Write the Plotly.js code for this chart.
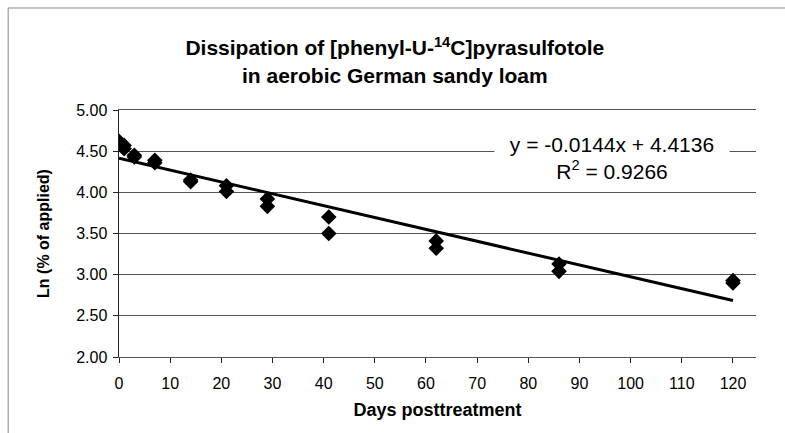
<!DOCTYPE html>
<html>
<head>
<meta charset="utf-8">
<script src="https://cdn.plot.ly/plotly-3.0.1.min.js"></script>
<style>html,body{margin:0;padding:0;background:#fff;}#chart{width:785px;height:433px;}</style>
</head>
<body>
<div id="chart"></div>
<script>
// Data
const days = [0, 0, 1, 1, 3, 3, 7, 7, 14, 14, 21, 21, 29, 29, 41, 41, 62, 62, 86, 86, 120, 120];
const lnApplied = [4.62, 4.60, 4.57, 4.53, 4.45, 4.43, 4.39, 4.36, 4.15, 4.13, 4.08, 4.01, 3.92, 3.83, 3.70, 3.50, 3.41, 3.32, 3.13, 3.04, 2.93, 2.90];
const trendSlope = -0.0144;
const trendIntercept = 4.4136;
const trendX = [0, 120];
const xTicks = [0, 10, 20, 30, 40, 50, 60, 70, 80, 90, 100, 110, 120];
const yTicks = [2.0, 2.5, 3.0, 3.5, 4.0, 4.5, 5.0];

const trendY = trendX.map(x => trendSlope * x + trendIntercept);

const font = 'Liberation Sans, Arial, sans-serif';

const traces = [
  {
    x: days, y: lnApplied, type: 'scatter', mode: 'markers',
    marker: {symbol: 'diamond', size: 12, color: '#000'},
    hoverinfo: 'x+y', showlegend: false
  },
  {
    x: trendX, y: trendY, type: 'scatter', mode: 'lines',
    line: {color: '#000', width: 3}, showlegend: false
  }
];

const layout = {
  width: 785, height: 433,
  margin: {l: 119, r: 29, t: 110, b: 76},
  paper_bgcolor: '#fff', plot_bgcolor: '#fff',
  font: {family: font, color: '#000'},
  title: {
    text: 'Dissipation of [phenyl-U-<sup>14</sup>C]pyrasulfotole<br>in aerobic German sandy loam',
    font: {family: font, size: 21, color: '#000', weight: 'bold'},
    x: 0.503, xanchor: 'center', yref: 'container', y: 0.872, yanchor: 'top'
  },
  xaxis: {
    range: [0, 124.5], tickvals: xTicks, ticktext: xTicks.map(String),
    ticks: 'outside', ticklen: 5, tickcolor: '#222',
    showline: true, linecolor: '#555', linewidth: 1, mirror: true,
    showgrid: false, zeroline: false, ticklabelstandoff: 7,
    tickfont: {size: 16, family: font},
    title: {text: 'Days posttreatment', font: {size: 18, family: font, weight: 'bold'}, standoff: 12}
  },
  yaxis: {
    range: [2, 5], tickvals: yTicks, ticktext: yTicks.map(v => v.toFixed(2)),
    ticks: 'outside', ticklen: 5, tickcolor: '#222',
    showline: true, linecolor: '#222', linewidth: 1.5,
    showgrid: true, gridcolor: '#555', gridwidth: 1.3, zeroline: false,
    ticklabelstandoff: 2,
    tickfont: {size: 16, family: font},
    title: {text: 'Ln (% of applied)', font: {size: 16, family: font, weight: 'bold'}, standoff: 22}
  },
  annotations: [
    {
      xref: 'paper', yref: 'paper', x: 0.774, y: 0.804, xanchor: 'center', yanchor: 'middle',
      text: 'y = -0.0144x + 4.4136<br>R<sup>2</sup> = 0.9266',
      showarrow: false, align: 'center',
      font: {size: 21, family: font, color: '#000'},
      bgcolor: '#fff', borderpad: 2, width: 230
    }
  ],
  shapes: [
    {type: 'rect', xref: 'paper', yref: 'paper', x0: -0.174, x1: 1.2, y0: -0.4, y1: 1.413,
     line: {color: '#888', width: 1}, layer: 'below'}
  ]
};

Plotly.newPlot('chart', traces, layout, {displayModeBar: false, staticPlot: true});
</script>
</body>
</html>
